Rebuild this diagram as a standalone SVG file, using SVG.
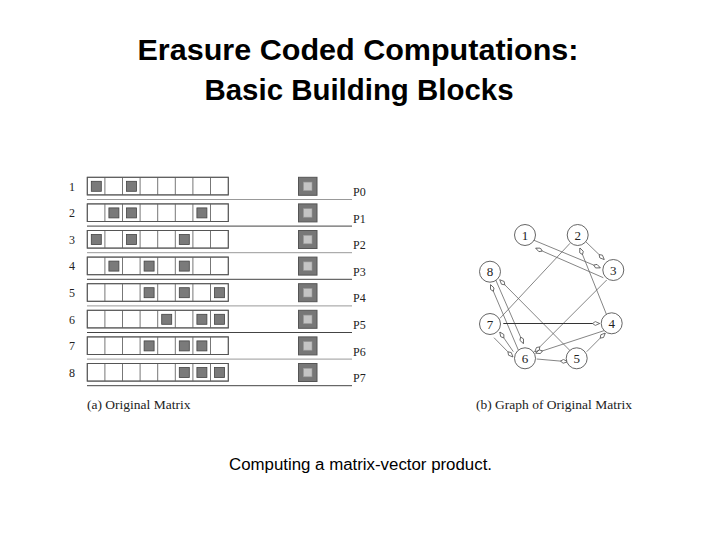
<svg xmlns="http://www.w3.org/2000/svg" width="720" height="540" viewBox="0 0 720 540">
<defs>
<style>
.title{font-family:"Liberation Sans",Arial,sans-serif;font-size:30px;font-weight:bold;fill:#000;text-anchor:middle}
.cap{font-family:"Liberation Sans",Arial,sans-serif;font-size:16px;fill:#000;text-anchor:middle}
.serif{font-family:"Liberation Serif","Times New Roman",serif;fill:#222}
.num{font-size:12px;text-anchor:middle}
.plab{font-size:12px}
.sub{font-size:13.5px}
.cell{fill:#fff;stroke:#777;stroke-width:1}
.box{fill:none;stroke:#555;stroke-width:1}
.sq{fill:#7a7a7a;stroke:#444;stroke-width:0.8}
.ul1{stroke:#999;stroke-width:1}
.ul2{stroke:#444;stroke-width:1}
.pout{fill:#777;stroke:#555;stroke-width:1}
.pin{fill:#c4c4c4;stroke:#999;stroke-width:0.6}
.node circle{fill:#fff;stroke:#555;stroke-width:0.9}
.node text{font-family:"Liberation Serif","Times New Roman",serif;font-size:13px;text-anchor:middle;fill:#222}
.edge{stroke:#666;stroke-width:0.8;fill:none;marker-end:url(#ah)}
.plain{stroke:#666;stroke-width:0.8;fill:none}
</style>
<marker id="ah" viewBox="0 0 10 6" refX="9" refY="3" markerWidth="8" markerHeight="5" orient="auto" markerUnits="userSpaceOnUse">
<path d="M0.5,3 L4,0.6 L9.5,3 L4,5.4 Z" fill="#fff" stroke="#555" stroke-width="1"/>
</marker>
<g id="rowgrid">
<rect class="cell" x="0" y="0" width="141" height="17.6"/>
<path d="M17.6,0V17.6M35.2,0V17.6M52.8,0V17.6M70.4,0V17.6M88,0V17.6M105.6,0V17.6M123.2,0V17.6" stroke="#777" stroke-width="1"/>
<rect class="box" x="0" y="0" width="141" height="17.6"/>
</g>
<g id="pbox">
<rect class="pout" x="0" y="0" width="18.5" height="18"/>
<rect class="pin" x="5" y="4.8" width="8.5" height="8.5"/>
</g>
</defs>
<rect width="720" height="540" fill="#fff"/>

<g id="title">
<text class="title" x="358" y="60" textLength="441" lengthAdjust="spacingAndGlyphs">Erasure Coded Computations:</text>
<text class="title" x="359" y="100" textLength="309" lengthAdjust="spacingAndGlyphs">Basic Building Blocks</text>
</g>

<g id="matrix">
<g id="row1" transform="translate(87.3,177.3)">
<use href="#rowgrid"/>
<rect class="sq" x="4" y="4" width="10" height="10"/><rect class="sq" x="39.2" y="4" width="10" height="10"/>
</g>
<g id="row2" transform="translate(87.3,203.9)">
<use href="#rowgrid"/>
<rect class="sq" x="21.6" y="4" width="10" height="10"/><rect class="sq" x="39.2" y="4" width="10" height="10"/><rect class="sq" x="109.6" y="4" width="10" height="10"/>
</g>
<g id="row3" transform="translate(87.3,230.5)">
<use href="#rowgrid"/>
<rect class="sq" x="4" y="4" width="10" height="10"/><rect class="sq" x="39.2" y="4" width="10" height="10"/><rect class="sq" x="92" y="4" width="10" height="10"/>
</g>
<g id="row4" transform="translate(87.3,257.1)">
<use href="#rowgrid"/>
<rect class="sq" x="21.6" y="4" width="10" height="10"/><rect class="sq" x="56.8" y="4" width="10" height="10"/><rect class="sq" x="92" y="4" width="10" height="10"/>
</g>
<g id="row5" transform="translate(87.3,283.7)">
<use href="#rowgrid"/>
<rect class="sq" x="56.8" y="4" width="10" height="10"/><rect class="sq" x="92" y="4" width="10" height="10"/><rect class="sq" x="127.2" y="4" width="10" height="10"/>
</g>
<g id="row6" transform="translate(87.3,310.3)">
<use href="#rowgrid"/>
<rect class="sq" x="74.4" y="4" width="10" height="10"/><rect class="sq" x="109.6" y="4" width="10" height="10"/><rect class="sq" x="127.2" y="4" width="10" height="10"/>
</g>
<g id="row7" transform="translate(87.3,336.9)">
<use href="#rowgrid"/>
<rect class="sq" x="56.8" y="4" width="10" height="10"/><rect class="sq" x="92" y="4" width="10" height="10"/><rect class="sq" x="109.6" y="4" width="10" height="10"/>
</g>
<g id="row8" transform="translate(87.3,363.5)">
<use href="#rowgrid"/>
<rect class="sq" x="92" y="4" width="10" height="10"/><rect class="sq" x="109.6" y="4" width="10" height="10"/><rect class="sq" x="127.2" y="4" width="10" height="10"/>
</g>

<g id="underlines">
<line class="ul1" x1="87" y1="199.5" x2="352" y2="199.5"/>
<line class="ul2" x1="87" y1="226.1" x2="352" y2="226.1"/>
<line class="ul1" x1="87" y1="252.7" x2="352" y2="252.7"/>
<line class="ul2" x1="87" y1="279.3" x2="352" y2="279.3"/>
<line class="ul1" x1="87" y1="305.9" x2="352" y2="305.9"/>
<line class="ul2" x1="87" y1="332.5" x2="352" y2="332.5"/>
<line class="ul1" x1="87" y1="359.1" x2="352" y2="359.1"/>
<line class="ul2" x1="87" y1="385.7" x2="352" y2="385.7"/>
</g>

<g id="rownums" class="serif num">
<text x="72" y="190.5">1</text>
<text x="72" y="217.1">2</text>
<text x="72" y="243.7">3</text>
<text x="72" y="270.3">4</text>
<text x="72" y="296.9">5</text>
<text x="72" y="323.5">6</text>
<text x="72" y="350.1">7</text>
<text x="72" y="376.7">8</text>
</g>

<g id="pcol">
<use href="#pbox" x="298.5" y="177.3"/>
<use href="#pbox" x="298.5" y="203.9"/>
<use href="#pbox" x="298.5" y="230.5"/>
<use href="#pbox" x="298.5" y="257.1"/>
<use href="#pbox" x="298.5" y="283.7"/>
<use href="#pbox" x="298.5" y="310.3"/>
<use href="#pbox" x="298.5" y="336.9"/>
<use href="#pbox" x="298.5" y="363.5"/>
</g>
<g id="plabels" class="serif plab">
<text x="353" y="196">P0</text>
<text x="353" y="222.6">P1</text>
<text x="353" y="249.2">P2</text>
<text x="353" y="275.8">P3</text>
<text x="353" y="302.4">P4</text>
<text x="353" y="329">P5</text>
<text x="353" y="355.6">P6</text>
<text x="353" y="382.2">P7</text>
</g>
<text class="serif sub" x="87" y="408.5">(a) Original Matrix</text>
</g>

<g id="connectors">
<line class="edge" x1="533.3" y1="240" x2="600" y2="267.7"/>
<line class="edge" x1="603.3" y1="277.7" x2="536" y2="248.3"/>
<line class="edge" x1="585" y1="241" x2="604" y2="259.3"/>
<line class="plain" x1="570" y1="243.3" x2="500" y2="318.3"/>
<line class="edge" x1="606.7" y1="315" x2="580" y2="248.3"/>
<line class="edge" x1="606.7" y1="280" x2="535" y2="351.7"/>
<line class="edge" x1="495" y1="278.3" x2="523.3" y2="343.3"/>
<line class="edge" x1="518.3" y1="350" x2="490.7" y2="285"/>
<line class="edge" x1="571.7" y1="352.3" x2="500" y2="280"/>
<line class="edge" x1="503.3" y1="323.5" x2="599.3" y2="323.5" style="stroke:#333;stroke-width:1"/>
<line class="edge" x1="606" y1="330" x2="536" y2="353"/>
<line class="edge" x1="586.7" y1="351.7" x2="605" y2="333.3"/>
<line class="edge" x1="536.7" y1="359" x2="567.3" y2="361.7"/>
<line class="edge" x1="513.3" y1="351.7" x2="500" y2="332.3"/>
<line class="edge" x1="494" y1="337.7" x2="512.7" y2="356.7"/>
</g>

<g id="n1" class="node"><circle cx="525" cy="235" r="10.5"/><text x="525" y="239.5">1</text></g>
<g id="n2" class="node"><circle cx="577.7" cy="235" r="10.5"/><text x="577.7" y="239.5">2</text></g>
<g id="n3" class="node"><circle cx="613.3" cy="270" r="10.5"/><text x="613.3" y="274.5">3</text></g>
<g id="n4" class="node"><circle cx="611.7" cy="323.3" r="10.5"/><text x="611.7" y="327.8">4</text></g>
<g id="n5" class="node"><circle cx="576.7" cy="358.3" r="10.5"/><text x="576.7" y="362.8">5</text></g>
<g id="n6" class="node"><circle cx="525" cy="358.3" r="10.5"/><text x="525" y="362.8">6</text></g>
<g id="n7" class="node"><circle cx="490" cy="324" r="10.5"/><text x="490" y="328.5">7</text></g>
<g id="n8" class="node"><circle cx="490" cy="271.7" r="10.5"/><text x="490" y="276.2">8</text></g>

<text class="serif sub" x="476" y="408.5">(b) Graph of Original Matrix</text>

<text class="cap" x="360.5" y="470" textLength="263" lengthAdjust="spacingAndGlyphs">Computing a matrix-vector product.</text>
</svg>
